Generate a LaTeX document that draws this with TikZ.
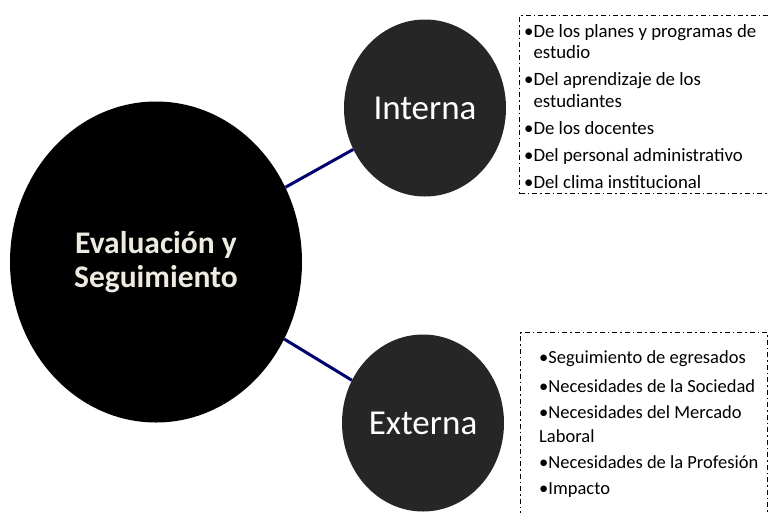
\documentclass[tikz,border=0pt]{standalone}
\usepackage{fontspec}
\setmainfont{Carlito}
\usetikzlibrary{shapes.geometric,positioning}
\definecolor{circgray}{RGB}{38,38,38}
\definecolor{offwhite}{RGB}{238,236,225}
\definecolor{linknavy}{RGB}{0,0,110}
\tikzset{
    mainbubble/.style = {ellipse, fill=black, inner sep=0pt, minimum width=292pt, minimum height=321pt,
                         text=offwhite, align=center, font=\bfseries\fontsize{31.5}{34}\selectfont},
    subbubble/.style = {ellipse, fill=circgray, inner sep=0pt, minimum width=162pt, minimum height=177pt,
                        text=white, font=\fontsize{35}{40}\selectfont},
    link/.style = {draw=linknavy, line width=3pt},
    listframe/.style = {draw, line width=1.4pt, dash pattern=on 5pt off 3pt on 1.5pt off 3pt,
                        anchor=north west, inner sep=0pt},
    listtext/.style = {anchor=north west, inner sep=0pt, align=left}
}

\begin{document}
\begin{tikzpicture}[x=1pt,y=-1pt]
    \useasboundingbox (0,0) rectangle (770,512);

    %% bubbles
    \node[mainbubble] (eval) at (156,262) {Evaluación y\\Seguimiento};
    \node[subbubble] (int) at (425,108) {Interna};
    \node[subbubble] (ext) at (423,423) {Externa};

    %% links
    \draw[link] (eval.30) -- (int.210);
    \draw[link] (eval.-31) -- (ext.149);

    %% interna list
    \node[listframe, minimum width=254pt, minimum height=178pt] (intframe) at (519,15) {};
    \node[listtext, font=\fontsize{18.8}{21.5}\selectfont] (intitems) at (524,24) {%
        •De los planes y programas de\\
        \phantom{•}estudio\\[5.5pt]
        •Del aprendizaje de los\\
        \phantom{•}estudiantes\\[5.5pt]
        •De los docentes\\[5.5pt]
        •Del personal administrativo\\[5.5pt]
        •Del clima institucional};

    %% externa list
    \node[listframe, minimum width=247pt, minimum height=190pt] (extframe) at (520,332) {};
    \node[listtext, font=\fontsize{18.5}{24}\selectfont] (extitems) at (539,350) {%
        •Seguimiento de egresados\\[5pt]
        •Necesidades de la Sociedad\\[2pt]
        •Necesidades del Mercado\\
        Laboral\\[2pt]
        •Necesidades de la Profesión\\[2pt]
        •Impacto};
\end{tikzpicture}
\end{document}
